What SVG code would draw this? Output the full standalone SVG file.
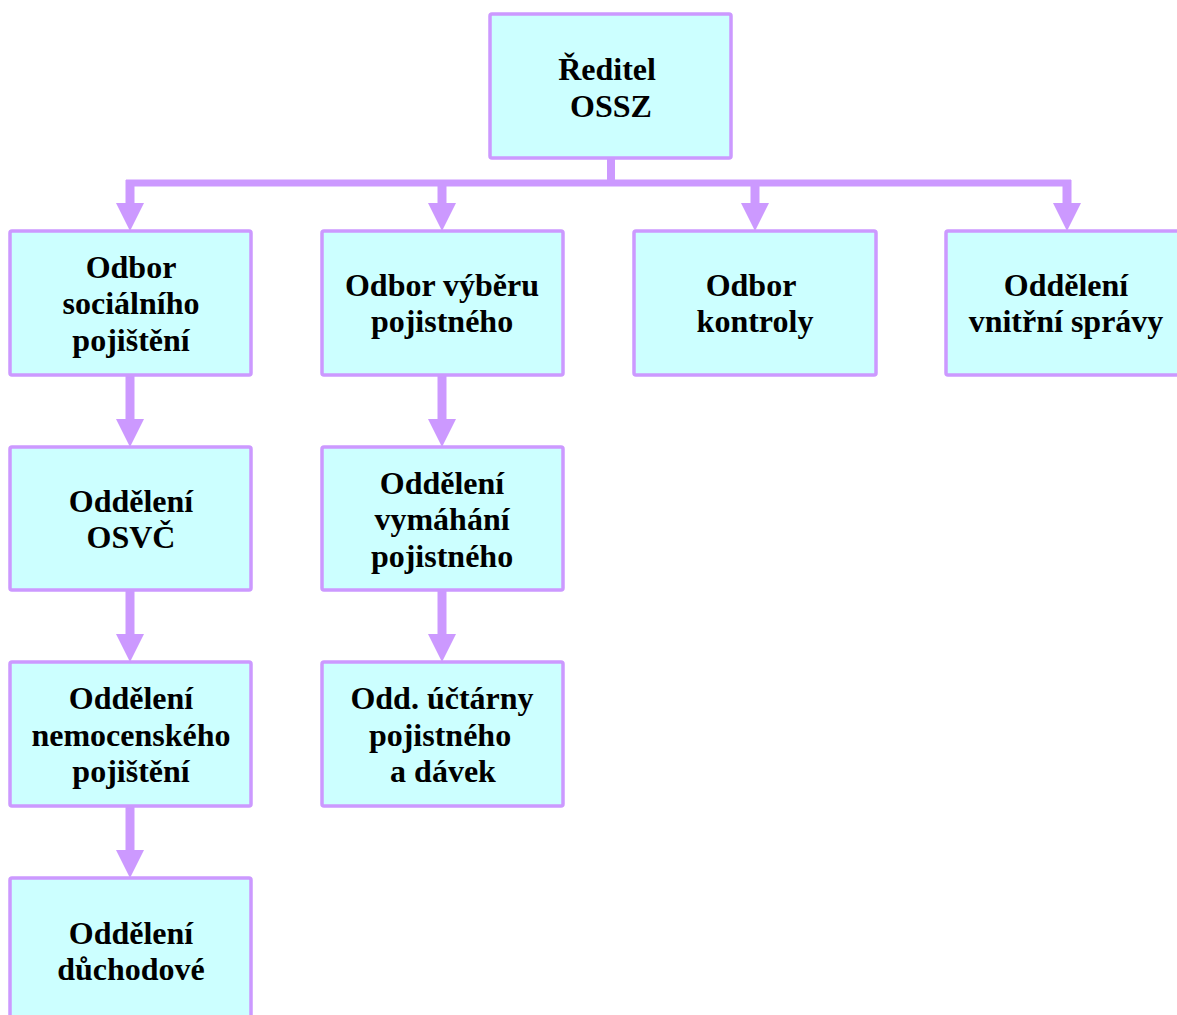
<svg xmlns="http://www.w3.org/2000/svg" width="1177" height="1015" viewBox="0 0 1177 1015">
<style>
.box{fill:#CCFFFF;stroke:#CC99FF;stroke-width:3.5}
.t{font-family:"Liberation Serif","Times New Roman",serif;font-weight:bold;font-size:32px;fill:#000;text-anchor:middle}
.c{fill:none;stroke:#CC99FF;stroke-width:9}
</style>
<defs>
<marker id="ah" markerUnits="userSpaceOnUse" markerWidth="28" markerHeight="28" viewBox="0 0 28 28" refX="0" refY="14" orient="auto">
<path d="M0,0 L28,14 L0,28 z" fill="#CC99FF"/>
</marker>
</defs>
<rect width="1177" height="1015" fill="#fff"/>
<g id="connectors">
<path d="M611,158 V183" class="c" style="stroke-width:8"/>
<path d="M126,183 H1071" class="c" style="stroke-width:7"/>
<path d="M130,180 V203" class="c" marker-end="url(#ah)"/>
<path d="M442,180 V203" class="c" marker-end="url(#ah)"/>
<path d="M755,180 V203" class="c" marker-end="url(#ah)"/>
<path d="M1067,180 V203" class="c" marker-end="url(#ah)"/>
<path d="M130,375 V419" class="c" marker-end="url(#ah)"/>
<path d="M130,590 V634" class="c" marker-end="url(#ah)"/>
<path d="M130,806 V850" class="c" marker-end="url(#ah)"/>
<path d="M442,375 V419" class="c" marker-end="url(#ah)"/>
<path d="M442,590 V634" class="c" marker-end="url(#ah)"/>
</g>
<g id="reditel">
<rect class="box" x="490" y="14" width="241" height="144" rx="2"/>
<text class="t" x="607" y="80">Ředitel</text>
<text class="t" x="611" y="117">OSSZ</text>
</g>
<g id="odbor-soc">
<rect class="box" x="10" y="231" width="241" height="144" rx="2"/>
<text class="t" x="131" y="278">Odbor</text>
<text class="t" x="131" y="314">sociálního</text>
<text class="t" x="131" y="351">pojištění</text>
</g>
<g id="odbor-vyberu">
<rect class="box" x="322" y="231" width="241" height="144" rx="2"/>
<text class="t" x="442" y="296">Odbor výběru</text>
<text class="t" x="442" y="332">pojistného</text>
</g>
<g id="odbor-kontroly">
<rect class="box" x="634" y="231" width="242" height="144" rx="2"/>
<text class="t" x="751" y="296">Odbor</text>
<text class="t" x="755" y="332">kontroly</text>
</g>
<g id="vnitrni-spravy">
<rect class="box" x="946" y="231" width="240" height="144" rx="2"/>
<text class="t" x="1066" y="296">Oddělení</text>
<text class="t" x="1066" y="332">vnitřní správy</text>
</g>
<g id="osvc">
<rect class="box" x="10" y="447" width="241" height="143" rx="2"/>
<text class="t" x="131" y="512">Oddělení</text>
<text class="t" x="131" y="548">OSVČ</text>
</g>
<g id="vymahani">
<rect class="box" x="322" y="447" width="241" height="143" rx="2"/>
<text class="t" x="442" y="494">Oddělení</text>
<text class="t" x="442" y="530">vymáhání</text>
<text class="t" x="442" y="567">pojistného</text>
</g>
<g id="nemocenske">
<rect class="box" x="10" y="662" width="241" height="144" rx="2"/>
<text class="t" x="131" y="709">Oddělení</text>
<text class="t" x="131" y="746">nemocenského</text>
<text class="t" x="131" y="782">pojištění</text>
</g>
<g id="uctarny">
<rect class="box" x="322" y="662" width="241" height="144" rx="2"/>
<text class="t" x="442" y="709">Odd. účtárny</text>
<text class="t" x="440" y="746">pojistného</text>
<text class="t" x="443" y="782">a dávek</text>
</g>
<g id="duchodove">
<rect class="box" x="10" y="878" width="241" height="150" rx="2"/>
<text class="t" x="131" y="944">Oddělení</text>
<text class="t" x="131" y="980">důchodové</text>
</g>
</svg>
